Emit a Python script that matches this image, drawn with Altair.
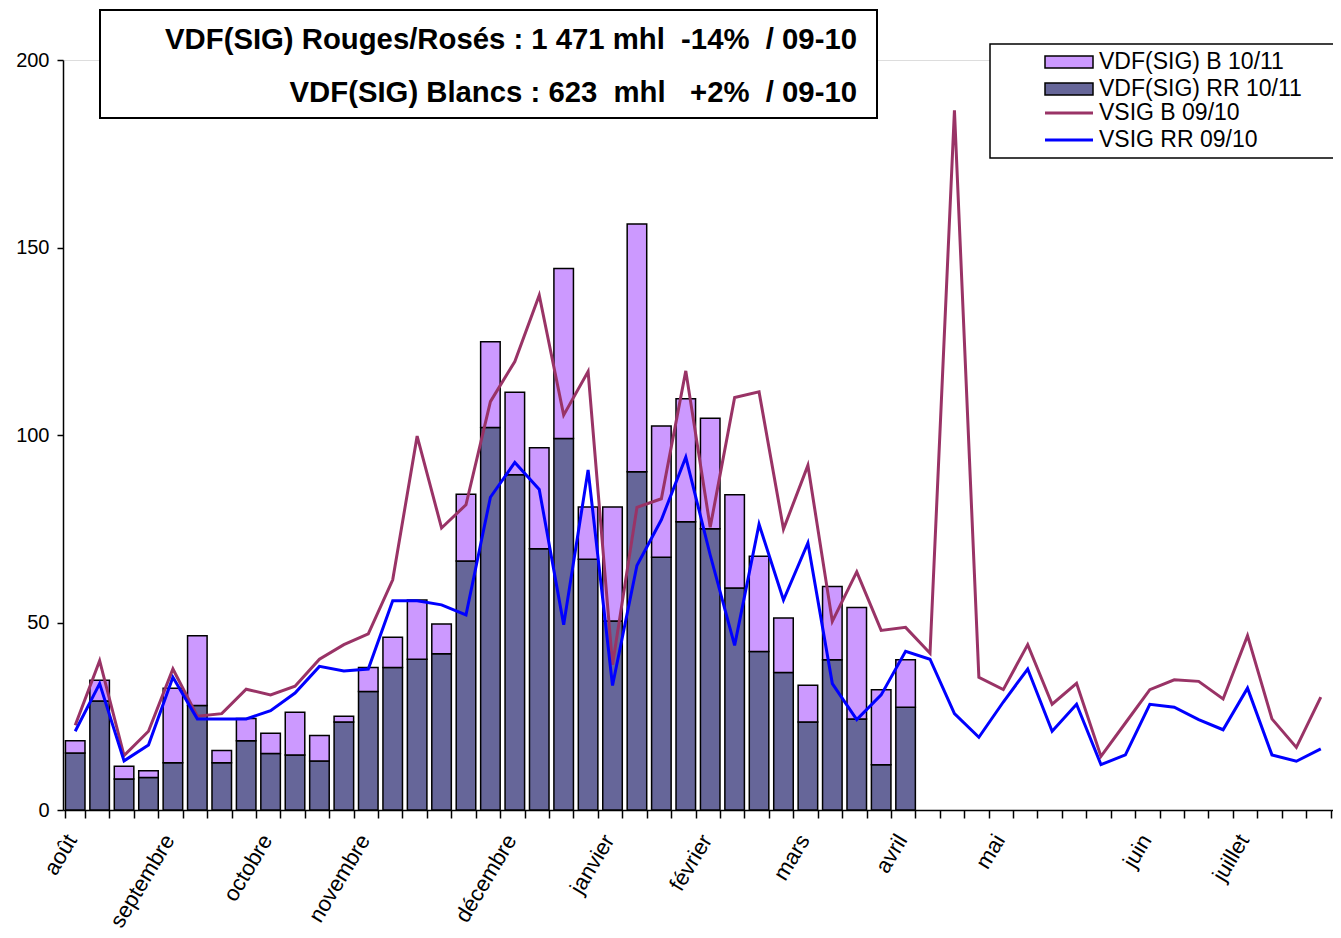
import json
import altair as alt
import pandas as pd

# ---------------- data ----------------
weeks = list(range(52))
month_names = ["août", "septembre", "octobre", "novembre", "décembre", "janvier",
               "février", "mars", "avril", "mai", "juin", "juillet"]
month_weeks = [0, 4, 8, 12, 18, 22, 26, 30, 34, 38, 44, 48]

bar_weeks = list(range(35))
rr_1011 = [15.2, 29.1, 8.3, 8.7, 12.6, 27.9, 12.6, 18.5, 15.1, 14.7, 13.1, 23.5,
           31.6, 38.0, 40.2, 41.7, 66.4, 102.0, 89.4, 69.7, 99.1, 66.9, 50.4, 90.2,
           67.4, 76.9, 75.0, 59.2, 42.3, 36.7, 23.5, 40.1, 24.3, 12.1, 27.4]
b_1011 = [3.3, 5.5, 3.4, 1.8, 19.9, 18.6, 3.3, 5.9, 5.4, 11.4, 6.8, 1.5,
          6.4, 8.1, 15.8, 7.9, 17.8, 22.9, 22.0, 26.9, 45.3, 13.9, 30.4, 66.1,
          35.0, 32.8, 29.5, 24.9, 25.4, 14.5, 9.8, 19.5, 29.7, 20.0, 12.7]

vsig_b_0910 = [22.6, 39.8, 14.5, 21.0, 37.6, 25.0, 25.7, 32.2, 30.7, 33.0, 40.2, 44.1,
               47.0, 61.4, 99.7, 75.2, 81.4, 108.9, 119.6, 137.3, 105.3, 116.9, 38.7, 80.7,
               83.0, 117.1, 75.4, 110.0, 111.5, 74.9, 91.9, 50.3, 63.5, 47.9, 48.7, 41.8,
               186.6, 35.4, 32.1, 44.1, 28.2, 33.8, 14.3, 23.2, 32.1, 34.7, 34.3, 29.6,
               46.5, 24.3, 16.7, 30.1]
vsig_rr_0910 = [21.0, 33.7, 13.1, 17.3, 35.4, 24.3, 24.3, 24.3, 26.5, 31.2, 38.3, 37.1,
                37.6, 55.8, 55.8, 54.7, 52.0, 83.4, 92.7, 85.5, 49.4, 90.7, 33.2, 65.2,
                77.4, 94.1, 68.0, 43.9, 76.2, 56.0, 71.2, 33.7, 24.1, 30.7, 42.3, 40.2,
                25.7, 19.4, 28.8, 37.6, 21.0, 28.2, 12.1, 14.7, 28.2, 27.4, 24.1, 21.4,
                32.5, 14.7, 13.0, 16.3]

bar_series = ["VDF(SIG) B 10/11", "VDF(SIG) RR 10/11"]
line_series = ["VSIG B 09/10", "VSIG RR 09/10"]
bar_colors = ["#CC99FF", "#666699"]
line_colors = ["#993366", "#0000FF"]

annotation_lines = ["VDF(SIG) Rouges/Rosés : 1 471 mhl  -14%  / 09-10",
                    "VDF(SIG) Blancs : 623  mhl   +2%  / 09-10"]

# ---------------- tables ----------------
bars_df = pd.DataFrame(
    [{"week": w, "series": bar_series[1], "value": v, "ord": 0} for w, v in zip(bar_weeks, rr_1011)]
    + [{"week": w, "series": bar_series[0], "value": v, "ord": 1} for w, v in zip(bar_weeks, b_1011)]
)
lines_df = pd.DataFrame(
    [{"week": w, "series": line_series[0], "value": v} for w, v in zip(weeks, vsig_b_0910)]
    + [{"week": w, "series": line_series[1], "value": v} for w, v in zip(weeks, vsig_rr_0910)]
)

labels = [""] * len(weeks)
for w, n in zip(month_weeks, month_names):
    labels[w] = n
label_expr = json.dumps(labels, ensure_ascii=False) + "[datum.value]"

FONT = "Liberation Sans"
W, H = 1270, 750

x_enc = alt.X(
    "week:O",
    scale=alt.Scale(domain=weeks, paddingInner=0.2, paddingOuter=0.1),
    axis=alt.Axis(
        title=None, labelExpr=label_expr, labelAngle=301, labelFontSize=22,
        labelFont=FONT, labelColor="black", labelOverlap=False, labelPadding=18,
        labelBound=False, labelFlush=False, labelOffset=-4,
        tickBand="extent", tickSize=8, tickColor="black", tickWidth=1.5,
        domainColor="black", domainWidth=1.5,
    ),
)
y_scale = alt.Scale(domain=[0, 200], nice=False)
y_axis = alt.Axis(
    title=None, values=[0, 50, 100, 150, 200], grid=False, tickSize=6,
    tickColor="black", tickWidth=1.5, domainColor="black", domainWidth=1.5,
    labelPadding=8, labelFontSize=20, labelFont=FONT, labelColor="black",
)

legend_common = dict(
    title=None, orient="none", padding=0, symbolSize=144,
    labelFont=FONT, labelFontSize=23, labelColor="black", labelOffset=18.5,
    labelLimit=400, rowPadding=3,
)

bars = alt.Chart(bars_df).mark_bar(stroke="black", strokeWidth=1.5).encode(
    x=x_enc,
    y=alt.Y("value:Q", stack="zero", scale=y_scale, axis=y_axis),
    fill=alt.Fill(
        "series:N",
        scale=alt.Scale(domain=bar_series, range=bar_colors),
        legend=alt.Legend(
            legendX=994.5, legendY=-9.5,
            symbolType="M-4,-1H4V1H-4Z",
            symbolStrokeColor="black", symbolStrokeWidth=1.5, symbolOpacity=1,
            **legend_common,
        ),
    ),
    order=alt.Order("ord:Q"),
)

lines = alt.Chart(lines_df).mark_line(strokeWidth=3).encode(
    x=x_enc,
    y=alt.Y("value:Q", scale=y_scale, axis=y_axis),
    stroke=alt.Stroke(
        "series:N",
        scale=alt.Scale(domain=line_series, range=line_colors),
        legend=alt.Legend(
            legendX=994.5, legendY=41.5,
            symbolType="M-4,0H4", symbolStrokeWidth=3,
            **legend_common,
        ),
    ),
)

one = pd.DataFrame({"k": [0]})
note_box = alt.Chart(one).mark_rect(fill="white", stroke="black", strokeWidth=2).encode(
    x=alt.value(37), x2=alt.value(814), y=alt.value(-50), y2=alt.value(58)
)
legend_box = alt.Chart(one).mark_rect(fill="white", stroke="black", strokeWidth=1.5).encode(
    x=alt.value(927), x2=alt.value(1300), y=alt.value(-16), y2=alt.value(98)
)
note_df = pd.DataFrame({"text": [t.replace(" ", "\u00a0") for t in annotation_lines]})
note1 = alt.Chart(note_df.iloc[[0]]).mark_text(
    align="right", baseline="alphabetic", font=FONT, fontSize=29.3, fontWeight="bold", color="black"
).encode(text="text:N", x=alt.value(794), y=alt.value(-11.5))
note2 = alt.Chart(note_df.iloc[[1]]).mark_text(
    align="right", baseline="alphabetic", font=FONT, fontSize=29.3, fontWeight="bold", color="black"
).encode(text="text:N", x=alt.value(794), y=alt.value(41.7))

chart = alt.layer(legend_box, bars, lines, note_box, note1, note2).properties(
    width=W, height=H,
    autosize=alt.AutoSizeParams(type="none"),
    padding={"left": 55, "top": 52, "right": 0, "bottom": 119},
).configure_view(stroke=None).configure(background="white")

chart.save("out.html", embed_options={"renderer": "svg", "actions": False})
